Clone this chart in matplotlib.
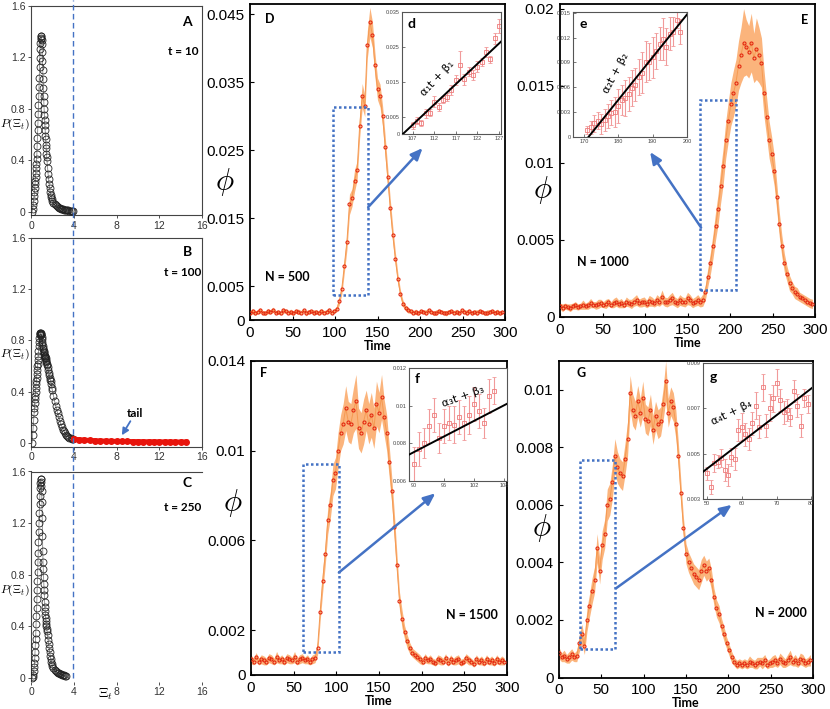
import numpy as np
import matplotlib
matplotlib.use('Agg')
import matplotlib.pyplot as plt
from matplotlib.patches import Rectangle
from matplotlib.lines import Line2D
from matplotlib.transforms import blended_transform_factory

plt.rcParams['font.family'] = ['Liberation Sans', 'DejaVu Sans']
plt.rcParams['mathtext.fontset'] = 'cm'

BOLD = ['Lato', 'DejaVu Sans']
BLUE = '#4472c4'

###################################
# left column: P(Xi_t) at t = 10, 100, 250
xi_grid = np.concatenate([np.arange(0.1, 0.26, 0.05), np.arange(0.3, 1.5001, 0.025),
                          np.arange(1.55, 2.001, 0.05), np.arange(2.1, 3.901, 0.1)])
P_A = [0.0, 0.02, 0.05, 0.085,
       0.12, 0.15, 0.18, 0.21, 0.24, 0.27, 0.30, 0.34, 0.37, 0.41, 0.45, 0.51, 0.57,
       0.63, 0.69, 0.76, 0.83, 0.90, 0.97, 1.04, 1.12, 1.19, 1.26, 1.31, 1.34, 1.36,
       1.36, 1.35, 1.33, 1.30, 1.24, 1.17, 1.10, 1.03, 0.96, 0.90, 0.85, 0.80, 0.75,
       0.71, 0.67, 0.63, 0.59, 0.56, 0.52, 0.49, 0.45, 0.42, 0.39,
       0.34, 0.29, 0.25, 0.21, 0.18, 0.15, 0.13, 0.11, 0.095, 0.085,
       0.068, 0.055, 0.047, 0.04, 0.034, 0.03, 0.025, 0.022, 0.02, 0.017, 0.015,
       0.013, 0.012, 0.01, 0.009, 0.008, 0.007, 0.006, 0.005]
P_B = [0.0, 0.06, 0.12, 0.18,
       0.24, 0.27, 0.31, 0.34, 0.37, 0.40, 0.43, 0.46, 0.48, 0.51, 0.54, 0.57, 0.60,
       0.62, 0.65, 0.68, 0.72, 0.76, 0.79, 0.82, 0.84, 0.85, 0.86, 0.86, 0.86, 0.85,
       0.85, 0.84, 0.83, 0.81, 0.79, 0.77, 0.76, 0.74, 0.73, 0.72, 0.71, 0.70, 0.69,
       0.68, 0.68, 0.67, 0.66, 0.66, 0.65, 0.64, 0.63, 0.62, 0.61,
       0.59, 0.57, 0.55, 0.53, 0.51, 0.49, 0.48, 0.46, 0.43, 0.41,
       0.37, 0.33, 0.29, 0.26, 0.23, 0.20, 0.17, 0.145, 0.125, 0.105, 0.09,
       0.075, 0.064, 0.054, 0.046, 0.04, 0.035, 0.031, 0.028]
P_C = [0.0, 0.005, 0.02, 0.05,
       0.08, 0.11, 0.15, 0.20, 0.25, 0.30, 0.35, 0.42, 0.48, 0.54, 0.61, 0.68, 0.75,
       0.82, 0.90, 0.97, 1.05, 1.13, 1.20, 1.28, 1.35, 1.41, 1.47, 1.51, 1.54, 1.54,
       1.52, 1.49, 1.45, 1.36, 1.24, 1.10, 0.98, 0.90, 0.84, 0.78, 0.73, 0.68, 0.64,
       0.59, 0.55, 0.52, 0.49, 0.46, 0.44, 0.42, 0.40, 0.38, 0.36,
       0.33, 0.29, 0.26, 0.23, 0.20, 0.17, 0.145, 0.12, 0.105, 0.09,
       0.075, 0.063, 0.053, 0.045, 0.038, 0.033, 0.029, 0.025, 0.022, 0.019, 0.017,
       0.015, 0.013]
tail_x = np.arange(4.0, 14.51, 0.5)
tail_P = [0.03, 0.026, 0.023, 0.02, 0.018, 0.016, 0.015, 0.014, 0.013, 0.012, 0.012,
          0.011, 0.011, 0.01, 0.01, 0.01, 0.009, 0.009, 0.009, 0.008, 0.008, 0.008]

###################################
# right block: phi(t), values in units of 1e-3, every 3 time steps
t = np.arange(0, 300, 3)
phi_D = [1.1, 1.3, 1.0, 1.2, 1.4, 1.1, 1.0, 1.3, 1.2, 1.5, 1.1, 1.2, 1.0, 1.4, 1.3, 1.1, 1.2,
         1.0, 1.3, 1.2, 1.1, 1.4, 1.0, 1.2, 1.3, 1.1, 1.2, 1.0, 1.3, 1.1, 1.2, 1.4, 1.1, 1.3,
         1.6, 2.8, 4.6, 8.0, 11.5, 17.0, 18.0, 20.5, 22.0, 28.5, 33.0, 31.5, 40.5, 43.8, 42.0,
         37.5, 34.0, 33.0, 30.0, 25.5, 21.0, 16.5, 12.5, 9.0, 6.0, 3.8, 2.4, 1.8, 1.4,
         1.3, 1.1, 1.2, 1.0, 1.3, 1.2, 1.1, 1.4, 1.2, 1.0, 1.1, 1.3, 1.2, 1.1, 1.0, 1.2, 1.3,
         1.1, 1.2, 1.0, 1.4, 1.2, 1.1, 1.3, 1.0, 1.2, 1.1, 1.3, 1.2, 1.0, 1.1, 1.2, 1.3, 1.1,
         1.2, 1.0, 1.2]
err_D = [0.3, 0.4, 0.3, 0.3, 0.4, 0.3, 0.3, 0.4, 0.3, 0.4, 0.3, 0.3, 0.3, 0.4, 0.3, 0.3, 0.4,
         0.3, 0.3, 0.4, 0.3, 0.3, 0.4, 0.3, 0.3, 0.4, 0.3, 0.3, 0.4, 0.3, 0.3, 0.4, 0.3, 0.3,
         0.4, 0.6, 0.8, 1.0, 1.2, 1.5, 1.3, 1.6, 1.4, 1.7, 1.8, 1.6, 2.0, 2.2, 1.9, 1.8, 1.6,
         1.7, 1.5, 1.6, 1.4, 1.3, 1.2, 1.0, 0.8, 0.6, 0.5, 0.4, 0.4,
         0.3, 0.3, 0.4, 0.3, 0.3, 0.3, 0.4, 0.3, 0.3, 0.3, 0.4, 0.3, 0.3, 0.3, 0.4, 0.3, 0.3,
         0.3, 0.4, 0.3, 0.3, 0.3, 0.4, 0.3, 0.3, 0.3, 0.4, 0.3, 0.3, 0.3, 0.4, 0.3, 0.3, 0.3,
         0.4, 0.3, 0.3]
phi_E = [0.7, 0.6, 0.7, 0.65, 0.6, 0.7, 0.75, 0.65, 0.7, 0.8, 0.7, 0.75, 0.9, 0.8, 0.75, 0.85,
         0.9, 0.8, 0.85, 0.95, 0.8, 0.9, 1.0, 0.85, 0.9, 0.8, 1.0, 0.9, 0.85, 1.0, 1.1, 0.9,
         0.95, 1.0, 0.85, 1.05, 1.0, 0.9, 1.1, 1.0, 1.3, 1.0, 0.95, 1.1, 1.2, 1.0, 0.9, 1.1,
         1.0, 0.95, 1.2, 1.1, 0.9, 1.0, 1.1, 0.95,
         1.1, 1.6, 2.6, 3.5, 4.6, 5.9, 7.0, 8.5, 9.8, 11.5, 12.7, 13.8, 14.5, 15.2, 16.3,
         17.0, 17.8, 17.5, 17.2, 17.8, 16.8, 17.4, 17.0, 16.5, 14.5, 13.0, 11.5, 10.6, 9.5,
         7.8, 6.0, 4.6, 3.5, 2.8, 2.2, 1.9, 1.6, 1.5, 1.3, 1.2, 1.1, 1.0, 0.9, 0.85]
err_E = [0.2, 0.25, 0.2, 0.2, 0.25, 0.2, 0.25, 0.2, 0.2, 0.3, 0.2, 0.25, 0.3, 0.2, 0.25, 0.3,
         0.25, 0.2, 0.3, 0.25, 0.2, 0.3, 0.3, 0.25, 0.3, 0.2, 0.3, 0.25, 0.3, 0.3, 0.35, 0.25,
         0.3, 0.3, 0.25, 0.35, 0.3, 0.25, 0.35, 0.3, 0.45, 0.3, 0.3, 0.35, 0.4, 0.3, 0.3, 0.35,
         0.3, 0.3, 0.4, 0.35, 0.3, 0.3, 0.35, 0.3,
         0.4, 0.5, 0.6, 0.7, 0.8, 0.9, 1.0, 1.1, 1.2, 1.2, 1.3, 1.4, 1.5, 1.5, 1.6, 1.8, 2.2,
         1.8, 1.7, 1.9, 1.6, 2.0, 1.8, 1.6, 1.5, 1.3, 1.2, 1.1, 1.0, 0.9, 0.8, 0.7, 0.6, 0.5,
         0.5, 0.4, 0.4, 0.4, 0.3, 0.3, 0.3, 0.3, 0.3, 0.3]
phi_F = [0.7, 0.6, 0.8, 0.6, 0.7, 0.65, 0.6, 0.75, 0.7, 0.6, 0.8, 0.65, 0.7, 0.6, 0.75, 0.7,
         0.65, 0.8, 0.6, 0.7, 0.75, 0.65, 0.7, 0.6, 0.7, 0.75,
         1.2, 2.8, 4.2, 5.4, 6.9, 7.6, 8.7, 9.0, 10.0, 10.8, 11.2, 11.9, 11.3, 11.2, 11.8,
         12.2, 11.0, 10.8, 11.3, 11.8, 11.2, 11.6, 11.0, 12.1, 11.7, 12.4, 11.5, 10.8, 9.5,
         8.2, 6.6, 4.9, 3.3, 2.5, 1.9, 1.5, 1.2, 1.0, 0.9,
         0.8, 0.7, 0.6, 0.75, 0.65, 0.7, 0.6, 0.55, 0.7, 0.65, 0.6, 0.75, 0.55, 0.7, 0.6,
         0.65, 0.7, 0.55, 0.6, 0.75, 0.65, 0.6, 0.5, 0.7, 0.6, 0.65, 0.55, 0.7, 0.6, 0.65,
         0.55, 0.7, 0.6, 0.65, 0.6]
err_F = [0.2, 0.15, 0.2, 0.15, 0.2, 0.2, 0.15, 0.2, 0.2, 0.15, 0.25, 0.15, 0.2, 0.15, 0.2,
         0.2, 0.15, 0.25, 0.15, 0.2, 0.2, 0.15, 0.2, 0.15, 0.2, 0.2,
         0.3, 0.4, 0.5, 0.5, 0.6, 0.6, 0.7, 0.7, 0.8, 0.8, 0.9, 1.0, 0.9, 0.9, 1.0, 1.2, 0.9,
         0.9, 1.0, 0.9, 0.9, 1.0, 0.9, 1.0, 0.9, 1.0, 0.8, 0.8, 0.7, 0.6, 0.6, 0.5, 0.4, 0.4,
         0.3, 0.3, 0.25, 0.2, 0.2,
         0.2, 0.2, 0.15, 0.2, 0.15, 0.2, 0.15, 0.15, 0.2, 0.2, 0.15, 0.2, 0.15, 0.2, 0.15,
         0.2, 0.2, 0.15, 0.15, 0.2, 0.2, 0.15, 0.15, 0.2, 0.15, 0.2, 0.15, 0.2, 0.15, 0.2,
         0.15, 0.2, 0.15, 0.2, 0.15]
phi_G = [0.85, 0.7, 0.75, 0.65, 0.7, 0.8, 0.7, 0.75,
         1.2, 1.5, 1.1, 2.0, 2.5, 3.0, 3.4, 4.5, 3.7, 4.6, 5.0, 6.0, 6.2, 6.8, 7.7, 7.3, 7.1,
         7.0, 7.6, 8.3, 9.9, 9.3, 9.1, 9.6, 9.2, 9.7, 9.0, 8.9, 9.3, 8.6, 9.1, 8.8, 8.9, 9.5,
         10.3, 9.2, 9.6, 9.4, 8.8, 7.7, 6.4, 5.2, 4.3, 4.0, 3.8, 3.6, 3.5, 3.4, 3.7, 3.9,
         3.7, 3.8, 3.4, 2.8, 2.4, 2.2, 1.8, 1.5, 1.2, 0.95, 0.7, 0.55, 0.45, 0.5, 0.45,
         0.5, 0.45, 0.55, 0.5, 0.45, 0.5, 0.55, 0.5, 0.6, 0.45, 0.5, 0.55, 0.6, 0.5, 0.65,
         0.55, 0.5, 0.6, 0.7, 0.55, 0.6, 0.5, 0.65, 0.6, 0.5, 0.55, 0.6]
err_G = [0.2, 0.15, 0.2, 0.15, 0.2, 0.2, 0.15, 0.2,
         0.3, 0.35, 0.3, 0.4, 0.4, 0.45, 0.45, 0.5, 0.45, 0.5, 0.5, 0.55, 0.55, 0.6, 0.6,
         0.55, 0.5, 0.5, 0.55, 0.6, 0.6, 0.55, 0.5, 0.55, 0.5, 0.6, 0.5, 0.5, 0.55, 0.5, 0.5,
         0.5, 0.5, 0.55, 0.7, 0.5, 0.5, 0.5, 0.5, 0.45, 0.4, 0.35, 0.35, 0.35, 0.35, 0.35,
         0.35, 0.35, 0.4, 0.35, 0.35, 0.35, 0.35, 0.3, 0.3, 0.3, 0.25, 0.25, 0.2, 0.2, 0.2,
         0.15, 0.15, 0.15, 0.15,
         0.15, 0.15, 0.2, 0.15, 0.15, 0.2, 0.15, 0.2, 0.2, 0.15, 0.15, 0.2, 0.2, 0.15, 0.2,
         0.2, 0.15, 0.2, 0.25, 0.15, 0.2, 0.15, 0.2, 0.2, 0.15, 0.15, 0.2]

# insets (units 1e-3)
d_t = np.arange(107, 128)
d_phi = [2.5, 3.8, 3.2, 5.9, 6.1, 9.3, 7.7, 9.8, 10.7, 12.6, 15.5, 19.8, 15.7, 17.9, 16.9,
         19.3, 20.7, 23.6, 21.4, 27.4, 31.0]
d_err = [1.0, 1.0, 0.8, 1.2, 1.0, 1.5, 1.2, 1.0, 1.2, 1.5, 1.5, 4.0, 1.5, 1.2, 1.5, 1.5,
         1.2, 1.5, 1.0, 1.5, 2.0]
e_t = np.arange(171, 199)
e_phi = [0.85, 1.17, 1.65, 1.98, 1.57, 2.06, 2.54, 2.94, 3.06, 3.75, 4.48, 4.68, 5.2, 5.89,
         6.29, 7.22, 7.78, 9.11, 9.11, 9.64, 10.4, 11.25, 11.82, 10.93, 12.46, 12.74, 14.15,
         12.74]
e_err = [0.5, 0.8, 1.0, 1.0, 1.2, 1.3, 1.5, 1.5, 1.8, 2.0, 1.8, 2.2, 2.0, 2.2, 2.0, 2.2, 2.5,
         2.5, 2.2, 2.5, 2.2, 2.0, 2.5, 2.2, 2.0, 1.8, 1.0, 1.5]
f_t = np.arange(90, 107)
f_phi = [6.9, 7.7, 8.0, 8.9, 9.5, 8.3, 8.9, 9.1, 9.0, 9.4, 9.1, 9.5, 10.1, 9.7, 9.1, 10.5, 10.8]
f_err = [0.9, 0.9, 0.8, 0.9, 0.9, 0.8, 0.9, 0.9, 1.0, 0.9, 0.9, 1.0, 0.9, 0.9, 0.8, 0.9, 0.7]
g_t = np.arange(50, 80)
g_phi = [4.13, 3.54, 4.57, 4.65, 4.8, 4.28, 4.06, 4.87, 4.76, 6.04, 6.19, 5.85, 5.65, 6.34,
         7.12, 6.19, 7.93, 6.24, 7.03, 7.44, 8.13, 7.37, 6.83, 6.93, 6.63, 7.76, 7.12, 6.24,
         7.47, 7.18]
g_err = [0.3, 0.3, 0.4, 0.3, 0.4, 0.5, 0.5, 0.4, 0.5, 0.5, 0.6, 0.5, 0.5, 0.5, 0.6, 0.5, 0.6,
         0.5, 0.6, 0.6, 0.6, 0.5, 0.5, 0.5, 0.4, 0.5, 0.5, 0.5, 0.4, 0.4]
fit_d = ([104.7, 127.5], [0.0, 26.5])
fit_e = ([171.3, 200.0], [0.0, 14.8])
fit_f = ([89.0, 108.5], [7.4, 10.1])
fit_g = ([48.8, 80.2], [4.2, 7.9])

###################################
W, H = 830.0, 709.0
fig = plt.figure(figsize=(W / 100, H / 100), dpi=100)


def px_axes(x0, y0, x1, y1):
    return fig.add_axes([x0 / W, 1 - y1 / H, (x1 - x0) / W, (y1 - y0) / H])


def dist_panel(box, P, letter, tlabel, ly, ty, py, full_box=True):
    ax = px_axes(*box)
    x = xi_grid[:len(P)]
    ax.plot(x, P, '-', color='#888888', lw=0.6, zorder=2)
    ax.plot(x, P, 'o', ms=5, mfc='none', mec='#222222', mew=0.6, zorder=3)
    ax.set_xlim(0, 16)
    ax.set_ylim(-0.03, 1.6)
    ax.set_xticks([0, 4, 8, 12, 16])
    ax.set_yticks([0, 0.4, 0.8, 1.2, 1.6])
    ax.set_yticklabels(['0', '0.4', '0.8', '1.2', '1.6'])
    ax.tick_params(labelsize=7.5, length=2, width=0.6, pad=2, colors='#333333')
    for s in ax.spines.values():
        s.set_color('#444444')
        s.set_linewidth(0.8)
    if not full_box:
        ax.spines['right'].set_visible(False)
        ax.spines['bottom'].set_visible(False)
    ax.text(14.6, ly, letter, fontsize=10, fontweight='bold', family=BOLD, ha='center', va='center')
    ax.text(14.2, ty, tlabel, fontsize=8.5, fontweight='bold', family=BOLD, ha='center', va='center')
    ax.text(-0.18, py, r'$P(\Xi_t)$', fontsize=8.5, transform=ax.get_yaxis_transform(),
            ha='left', va='center')
    return ax


axA = dist_panel((31, 5.5, 202, 215.4), P_A, 'A', 't = 10', 1.475, 1.24, 0.68)
axB = dist_panel((31, 238, 202, 446.8), P_B, 'B', 't = 100', 1.49, 1.33, 0.69)
axB.plot(tail_x, tail_P, '-', color='#e8140c', lw=3.5, zorder=3)
axB.plot(tail_x, tail_P, 'o', ms=4, color='#e8140c', zorder=4)
axB.text(9.7, 0.23, 'tail', fontsize=8.5, fontweight='bold', family=BOLD, ha='center', va='center')
axB.annotate('', xy=(8.5, 0.06), xytext=(9.3, 0.17),
             arrowprops=dict(arrowstyle='-|>,head_length=0.4,head_width=0.2', color=BLUE, lw=1.3,
                             shrinkA=0, shrinkB=0))
axC = dist_panel((31, 471.5, 202, 681.5), P_C, 'C', 't = 250', 1.51, 1.32, 0.68, full_box=False)
fig.text(106 / W, 1 - 694 / H, r'$\Xi_t$', fontsize=10, ha='center', va='center')

# dashed threshold line across the three panels
trans = blended_transform_factory(axA.transData, fig.transFigure)
fig.add_artist(Line2D([3.9, 3.9], [1 - 678 / H, 1.0], transform=trans, ls='--',
                      color=BLUE, lw=1.0, dashes=(4, 2.5)))


def phi_panel(box, phi, err, ylim, yticks, ylabels):
    ax = px_axes(*box)
    phi = np.array(phi) * 1e-3
    err = np.array(err) * 1e-3
    ax.fill_between(t, phi - err, phi + err, color='#fbb47c', lw=0, zorder=1)
    ax.plot(t, phi, '-', color='#f59a52', lw=0.7, zorder=2)
    ax.plot(t, phi, 'o', ms=2.2, mfc='none', mec='#e42a12', mew=0.8, zorder=3)
    ax.set_xlim(0, 300)
    ax.set_ylim(*ylim)
    ax.set_xticks(range(0, 301, 50))
    ax.set_yticks(yticks)
    ax.set_yticklabels(ylabels)
    ax.tick_params(direction='in', length=3, width=0.8, labelsize=11, pad=4)
    for s in ax.spines.values():
        s.set_linewidth(1.3)
    ax.set_xlabel('Time', fontsize=9, fontweight='bold', family=BOLD, labelpad=0)
    return ax


def add_box_arrow(ax, rect, tail, head):
    ax.add_patch(Rectangle((rect[0], rect[1]), rect[2] - rect[0], rect[3] - rect[1],
                           fill=False, ls=(0, (1, 1)), lw=1.8, ec=BLUE, zorder=5))
    ax.annotate('', xy=head, xytext=tail,
                arrowprops=dict(arrowstyle='-|>,head_length=0.7,head_width=0.3', color=BLUE,
                                lw=1.8, shrinkA=0, shrinkB=0), zorder=6)


def inset(box, x, y, e, fit, xlim, ylim, xticks, yticks, ylabels, letter, formula, fpos, rot):
    ax = px_axes(*box)
    ax.set_zorder(10)
    y = np.array(y) * 1e-3
    e = np.array(e) * 1e-3
    ax.errorbar(x, y, yerr=e, fmt='s', ms=3, mfc='none', mec='#ee7b7b', mew=0.6,
                ecolor='#f19a9a', elinewidth=0.8, capsize=1.2, capthick=0.6, zorder=2)
    ax.plot(fit[0], np.array(fit[1]) * 1e-3, color='black', lw=1.4, zorder=3)
    ax.set_xlim(*xlim)
    ax.set_ylim(*ylim)
    ax.set_xticks(xticks)
    ax.set_yticks(yticks)
    ax.set_yticklabels(ylabels)
    ax.tick_params(direction='in', length=2, width=0.5, labelsize=4, pad=1.5, colors='#444444')
    for s in ax.spines.values():
        s.set_linewidth(0.8)
        s.set_color('#555555')
    ax.text(0.06, 0.9, letter, transform=ax.transAxes, fontsize=10, fontweight='bold',
            family=BOLD, ha='left', va='center')
    ax.text(fpos[0], fpos[1], formula, fontsize=8, rotation=rot, ha='center', va='center',
            family=['DejaVu Sans'], zorder=4)
    return ax


# D: N = 500
axD = phi_panel((250, 4, 505, 320), phi_D, err_D, (0, 0.0465),
                [0, 0.005, 0.015, 0.025, 0.035, 0.045],
                ['0', '0.005', '0.015', '0.025', '0.035', '0.045'])
add_box_arrow(axD, (98, 0.0037, 139, 0.0313), (139, 0.0166), (203, 0.0253))
axD.text(0.06, 0.94, 'D', transform=axD.transAxes, fontsize=9, fontweight='bold', family=BOLD)
axD.text(0.06, 0.136, 'N = 500', transform=axD.transAxes, fontsize=9, fontweight='bold',
         family=BOLD, va='center')
axD.text(-0.098, 0.437, r'$\phi$', transform=axD.transAxes, fontsize=22, ha='center', va='center')
inset((402, 12, 501, 134), d_t, d_phi, d_err, fit_d, (104.5, 127.5), (0, 0.035),
      [107, 112, 117, 122, 127], [0, 0.005, 0.015, 0.025, 0.035],
      ['0', '0.005', '0.015', '0.025', '0.035'], 'd', 'α₁t + β₁', (112.8, 0.0158), 47)

# E: N = 1000
axE = phi_panel((560, 4, 815, 317), phi_E, err_E, (0, 0.0203),
                [0, 0.005, 0.01, 0.015, 0.02], ['0', '0.005', '0.01', '0.015', '0.02'])
add_box_arrow(axE, (165, 0.00175, 207, 0.0141), (166, 0.0058), (106, 0.0107))
axE.text(0.973, 0.949, 'E', transform=axE.transAxes, fontsize=9, fontweight='bold',
         family=BOLD, ha='right', va='center')
axE.text(0.067, 0.176, 'N = 1000', transform=axE.transAxes, fontsize=9, fontweight='bold',
         family=BOLD, va='center')
axE.text(-0.067, 0.406, r'$\phi$', transform=axE.transAxes, fontsize=22, ha='center', va='center')
inset((573, 12, 687, 137), e_t, e_phi, e_err, fit_e, (166.8, 200), (0, 0.0151),
      [170, 180, 190, 200], [0, 0.003, 0.006, 0.009, 0.012, 0.015],
      ['0', '0.003', '0.006', '0.009', '0.012', '0.015'], 'e', 'α₂t + β₂', (179.3, 0.0077), 62)

# F: N = 1500
axF = phi_panel((251, 361, 507, 675), phi_F, err_F, (0, 0.014),
                [0, 0.002, 0.006, 0.01, 0.014], ['0', '0.002', '0.006', '0.01', '0.014'])
add_box_arrow(axF, (61, 0.00102, 103, 0.0094), (103, 0.00457), (216, 0.0081))
axF.text(0.035, 0.962, 'F', transform=axF.transAxes, fontsize=9, fontweight='bold',
         family=BOLD, va='center')
axF.text(0.864, 0.19, 'N = 1500', transform=axF.transAxes, fontsize=9, fontweight='bold',
         family=BOLD, ha='center', va='center')
axF.text(-0.07, 0.548, r'$\phi$', transform=axF.transAxes, fontsize=22, ha='center', va='center')
inset((409, 368, 507, 481), f_t, f_phi, f_err, fit_f, (89, 108.5), (0.006, 0.012),
      [90, 96, 102, 108], [0.006, 0.008, 0.01, 0.012],
      ['0.006', '0.008', '0.01', '0.012'], 'f', 'α₃t + β₃', (99.8, 0.0105), 20)

# G: N = 2000
axG = phi_panel((559, 361, 813, 677.5), phi_G, err_G, (0, 0.011),
                [0, 0.002, 0.004, 0.006, 0.008, 0.01],
                ['0', '0.002', '0.004', '0.006', '0.008', '0.01'])
add_box_arrow(axG, (24.8, 0.00098, 66, 0.00757), (67.3, 0.0031), (204, 0.006))
axG.text(0.07, 0.962, 'G', transform=axG.transAxes, fontsize=9, fontweight='bold',
         family=BOLD, va='center')
axG.text(0.874, 0.204, 'N = 2000', transform=axG.transAxes, fontsize=9, fontweight='bold',
         family=BOLD, ha='center', va='center')
axG.text(-0.067, 0.472, r'$\phi$', transform=axG.transAxes, fontsize=22, ha='center', va='center')
inset((703, 363, 812, 499), g_t, g_phi, g_err, fit_g, (48.8, 80.2), (0.003, 0.009),
      [50, 60, 70, 80], [0.003, 0.005, 0.007, 0.009],
      ['0.003', '0.005', '0.007', '0.009'], 'g', 'α₄t + β₄', (57.0, 0.0068), 26)

fig.savefig('out.png', dpi=100)
